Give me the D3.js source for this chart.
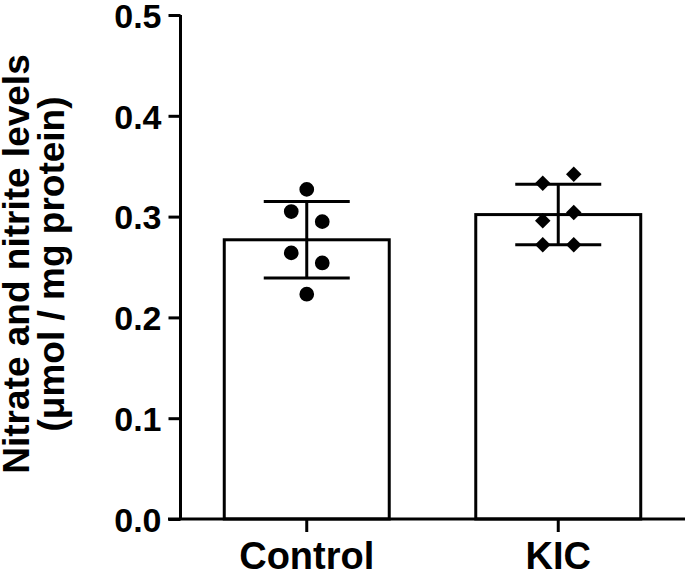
<!DOCTYPE html>
<html>
<head>
<meta charset="utf-8">
<script src="https://cdn.jsdelivr.net/npm/d3@7"></script>
<style>
  html, body { margin: 0; padding: 0; background: #fff; }
  svg { display: block; }
  text { font-family: "Liberation Sans", Arial, Helvetica, sans-serif; font-weight: bold; fill: #000; }
</style>
</head>
<body>
<svg id="chart" width="685" height="576"></svg>
<script>
// ---- data ----
const categories = ["Control", "KIC"];
const means = [0.277, 0.302];
const sds = [0.038, 0.030];
const controlPoints = [0.327, 0.305, 0.295, 0.264, 0.254, 0.223];
const kicPoints = [0.342, 0.333, 0.304, 0.296, 0.272, 0.272];
const yTicks = [0.0, 0.1, 0.2, 0.3, 0.4, 0.5];
const yLabelLines = ["Nitrate and nitrite levels", "(\u03bcmol / mg protein)"];

// ---- drawing ----
const svg = d3.select("#chart");
const W = 685, H = 576;
const y = d3.scaleLinear().domain([0, 0.5]).range([519, 15]);
const x = d3.scaleBand().domain(categories).range([181, 684])
  .paddingInner(0.344).paddingOuter(0.172);
const axisX = 180.5;
const lw = 3;

// bars
svg.selectAll("rect.bar").data(categories).join("rect")
  .attr("class", "bar")
  .attr("x", d => x(d))
  .attr("y", (d, i) => y(means[i]))
  .attr("width", x.bandwidth())
  .attr("height", (d, i) => y(0) - y(means[i]))
  .attr("fill", "#fff").attr("stroke", "#000").attr("stroke-width", lw);

// error bars
const capHalf = 43;
categories.forEach((c, i) => {
  const cx = x(c) + x.bandwidth() / 2;
  const g = svg.append("g").attr("stroke", "#000").attr("stroke-width", lw);
  g.append("line").attr("x1", cx).attr("x2", cx).attr("y1", y(means[i] + sds[i])).attr("y2", y(means[i] - sds[i]));
  g.append("line").attr("x1", cx - capHalf).attr("x2", cx + capHalf).attr("y1", y(means[i] + sds[i])).attr("y2", y(means[i] + sds[i]));
  g.append("line").attr("x1", cx - capHalf).attr("x2", cx + capHalf).attr("y1", y(means[i] - sds[i])).attr("y2", y(means[i] - sds[i]));
});

// axes
const yAxis = d3.axisLeft(y).tickValues(yTicks).tickFormat(d3.format(".1f")).tickSize(12).tickPadding(7);
const gy = svg.append("g").attr("transform", `translate(${axisX},0)`).call(yAxis);
gy.select(".domain").attr("d", `M0,${y(0.5)}V${y(0)}`).attr("stroke-width", lw).attr("stroke", "#000");
gy.selectAll(".tick line").attr("stroke-width", lw).attr("stroke", "#000");
gy.selectAll(".tick text").attr("font-size", 34).attr("font-family", "'Liberation Sans', Arial, sans-serif")
  .attr("font-weight", "bold").attr("fill", "#000").attr("dy", "0.36em");

const xAxis = d3.axisBottom(x).tickSize(13).tickPadding(10);
const gx = svg.append("g").attr("transform", `translate(0,${y(0)})`).call(xAxis);
gx.select(".domain").attr("d", `M168,0H${W}`).attr("stroke-width", lw).attr("stroke", "#000");
gx.selectAll(".tick line").attr("stroke-width", lw).attr("stroke", "#000");
gx.selectAll(".tick text").attr("font-size", 38).attr("font-family", "'Liberation Sans', Arial, sans-serif")
  .attr("font-weight", "bold").attr("fill", "#000").attr("dy", "0.7em");

// points
const off = 15.5;
const jitter = [[0, -1, 1, -1, 1, 0], [1, -1, 1, -1, -1, 1]];
const pointSets = [controlPoints, kicPoints];
const sizes = [170, 120];
pointSets.forEach((pts, i) => {
  const cx = x(categories[i]) + x.bandwidth() / 2;
  svg.append("g").selectAll("path").data(pts).join("path")
    .attr("transform", (d, j) => `translate(${cx + jitter[i][j] * off},${y(d)})${i === 1 ? " rotate(45)" : ""}`)
    .attr("d", d3.symbol().type(i === 1 ? d3.symbolSquare : d3.symbolCircle).size(sizes[i]))
    .attr("fill", "#000");
});

// y label
const yl = svg.append("text").attr("transform", `translate(0,264) rotate(-90)`)
  .attr("text-anchor", "middle").attr("font-size", 37);
yl.append("tspan").attr("x", 0).attr("y", 29).text(yLabelLines[0]);
yl.append("tspan").attr("x", 0).attr("y", 64).text(yLabelLines[1]);
</script>
</body>
</html>
